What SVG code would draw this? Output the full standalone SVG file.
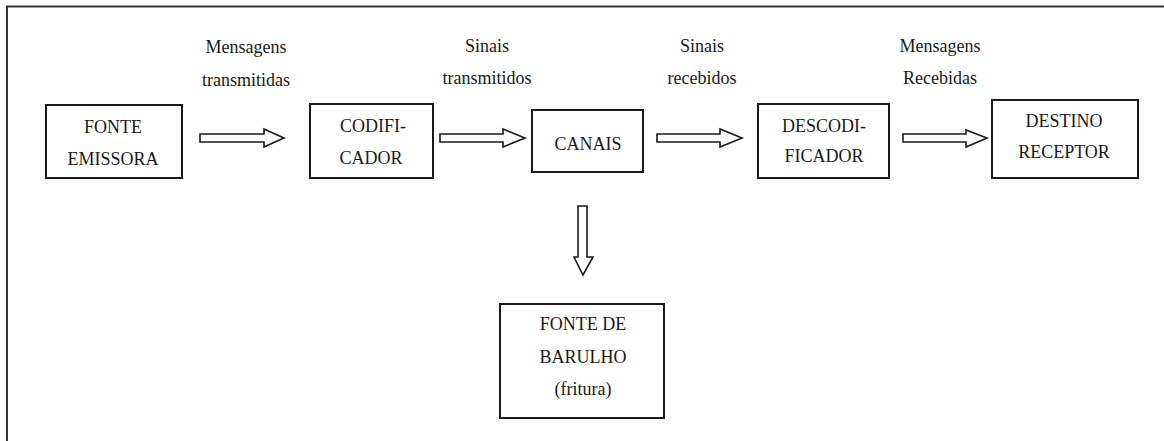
<svg xmlns="http://www.w3.org/2000/svg" width="1164" height="441" viewBox="0 0 1164 441">
<style>
.box{fill:#fff;stroke:#1a1a1a;stroke-width:2}
.arr{fill:#fff;stroke:#1a1a1a;stroke-width:1.6;stroke-linejoin:miter}
text{font-family:'Liberation Serif','Times New Roman',Times,'DejaVu Serif',serif;font-size:18px;fill:#1a1a1a;text-anchor:middle}
</style>
<rect width="1164" height="441" fill="#fff"/>
<path d="M7 441 V6.5 H1164" fill="none" stroke="#333" stroke-width="2"/>
<g id="labels">
<text x="246" y="53">Mensagens</text>
<text x="246" y="86">transmitidas</text>
<text x="487" y="52">Sinais</text>
<text x="487" y="84">transmitidos</text>
<text x="702" y="52">Sinais</text>
<text x="702" y="84">recebidos</text>
<text x="940" y="52">Mensagens</text>
<text x="940" y="84">Recebidas</text>
</g>
<g id="fonte">
<rect class="box" x="46" y="105" width="136" height="73"/>
<text x="113" y="133">FONTE</text>
<text x="113" y="165">EMISSORA</text>
</g>
<g id="codificador">
<rect class="box" x="310" y="104" width="123" height="74"/>
<text x="373" y="132">CODIFI-</text>
<text x="371" y="164">CADOR</text>
</g>
<g id="canais">
<rect class="box" x="532" y="110" width="111" height="62"/>
<text x="588" y="150">CANAIS</text>
</g>
<g id="descodificador">
<rect class="box" x="758" y="104" width="131" height="74"/>
<text x="824" y="132">DESCODI-</text>
<text x="824" y="162">FICADOR</text>
</g>
<g id="destino">
<rect class="box" x="992" y="100" width="146" height="78"/>
<text x="1064" y="127">DESTINO</text>
<text x="1064" y="158">RECEPTOR</text>
</g>
<g id="barulho">
<rect class="box" x="500" y="304" width="164" height="114"/>
<text x="583" y="330">FONTE DE</text>
<text x="583" y="363">BARULHO</text>
<text x="583" y="395">(fritura)</text>
</g>
<g id="connectors">
<path class="arr" d="M200 134 H264 V129 L284 138 L264 147 V142 H200 Z"/>
<path class="arr" d="M440 134 H503 V129 L525 138 L503 147 V142 H440 Z"/>
<path class="arr" d="M657 134 H720 V129 L742 138 L720 147 V142 H657 Z"/>
<path class="arr" d="M903 134 H966 V130 L987 138 L966 147 V142 H903 Z"/>
<path class="arr" d="M578 206 H587 V257 H593 L583 275 L574 257 H578 Z"/>
</g>
</svg>
